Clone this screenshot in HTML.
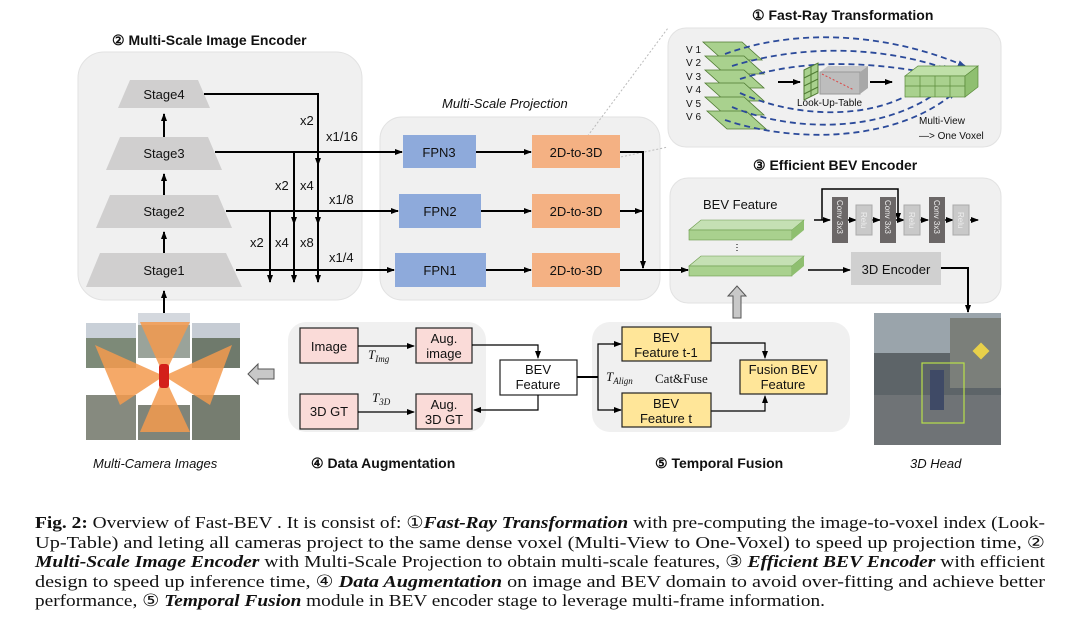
<!DOCTYPE html>
<html><head><meta charset="utf-8"><style>
body{margin:0;background:#fff;}
svg{display:block;font-family:"Liberation Sans",sans-serif;}
.t{font-size:13px;fill:#111;}
.h{font-size:14px;font-weight:bold;fill:#111;}
.cap{font-family:"Liberation Serif",serif;font-size:17px;fill:#111;}
</style></head><body>
<svg width="1080" height="622" viewBox="0 0 1080 622">
<defs>
<marker id="a" markerWidth="8" markerHeight="8" refX="7" refY="4" orient="auto" markerUnits="userSpaceOnUse"><path d="M0,1 L8,4 L0,7z" fill="#000"/></marker>
<marker id="b" markerWidth="8" markerHeight="8" refX="7" refY="4" orient="auto" markerUnits="userSpaceOnUse"><path d="M0,1 L8,4 L0,7z" fill="#2b4a9a"/></marker>
</defs>
<!-- panels -->
<rect x="78" y="52" width="284" height="248" rx="26" fill="#f0f0f0" stroke="#e2e2e2"/>
<rect x="380" y="117" width="280" height="183" rx="22" fill="#f0f0f0" stroke="#e2e2e2"/>
<rect x="668" y="28" width="333" height="119" rx="18" fill="#f0f0f0" stroke="#e2e2e2"/>
<rect x="670" y="178" width="331" height="125" rx="18" fill="#f0f0f0" stroke="#e2e2e2"/>
<rect x="288" y="322" width="198" height="110" rx="18" fill="#f0f0f0"/>
<rect x="592" y="322" width="258" height="110" rx="18" fill="#f0f0f0"/>
<!-- titles -->
<text x="112" y="45" class="h">② Multi-Scale Image Encoder</text>
<text x="442" y="108" font-size="13" font-style="italic" fill="#111">Multi-Scale Projection</text>
<text x="752" y="20" class="h">① Fast-Ray Transformation</text>
<text x="753" y="170" class="h">③ Efficient BEV  Encoder</text>
<text x="311" y="468" class="h">④ Data Augmentation</text>
<text x="655" y="468" class="h">⑤ Temporal Fusion</text>
<text x="93" y="468" font-size="13" font-style="italic" fill="#111">Multi-Camera Images</text>
<text x="910" y="468" font-size="13" font-style="italic" fill="#111">3D Head</text>
<!-- dotted zoom lines -->
<line x1="578" y1="149" x2="668" y2="28" stroke="#bbb" stroke-dasharray="2,2"/>
<line x1="578" y1="166" x2="668" y2="147" stroke="#bbb" stroke-dasharray="2,2"/>
<!-- stages -->
<g fill="#d0cfcf">
<polygon points="130,80 198,80 210,108 118,108"/>
<polygon points="120,137 208,137 222,170 106,170"/>
<polygon points="110,195 218,195 232,228 96,228"/>
<polygon points="100,253 226,253 242,287 86,287"/>
</g>
<text x="164" y="99" class="t" text-anchor="middle">Stage4</text>
<text x="164" y="158" class="t" text-anchor="middle">Stage3</text>
<text x="164" y="216" class="t" text-anchor="middle">Stage2</text>
<text x="164" y="275" class="t" text-anchor="middle">Stage1</text>
<g stroke="#000" stroke-width="2" fill="none">
<line x1="164" y1="137" x2="164" y2="114" marker-end="url(#a)"/>
<line x1="164" y1="195" x2="164" y2="174" marker-end="url(#a)"/>
<line x1="164" y1="253" x2="164" y2="232" marker-end="url(#a)"/>
<line x1="164" y1="318" x2="164" y2="291" marker-end="url(#a)"/>
<!-- connections -->
<polyline points="204,94 318,94 318,165" marker-end="url(#a)"/>
<line x1="215" y1="168" x2="402" y2="168" marker-end="url(#a)" transform="translate(0,-16)"/>
<line x1="294" y1="152" x2="294" y2="224" marker-end="url(#a)"/>
<line x1="318" y1="152" x2="318" y2="224" marker-end="url(#a)"/>
<line x1="226" y1="211" x2="398" y2="211" marker-end="url(#a)"/>
<line x1="270" y1="211" x2="270" y2="282" marker-end="url(#a)"/>
<line x1="294" y1="211" x2="294" y2="282" marker-end="url(#a)"/>
<line x1="318" y1="211" x2="318" y2="282" marker-end="url(#a)"/>
<line x1="236" y1="270" x2="394" y2="270" marker-end="url(#a)"/>
<line x1="476" y1="152" x2="531" y2="152" marker-end="url(#a)"/>
<line x1="481" y1="211" x2="531" y2="211" marker-end="url(#a)"/>
<line x1="486" y1="270" x2="531" y2="270" marker-end="url(#a)"/>
<polyline points="620,152 643,152 643,268" marker-end="url(#a)"/>
<line x1="620" y1="211" x2="642" y2="211" marker-end="url(#a)"/>
<line x1="620" y1="270" x2="688" y2="270" marker-end="url(#a)"/>
</g>
<g class="t" font-size="12.5">
<text x="300" y="125">x2</text><text x="326" y="141">x1/16</text>
<text x="275" y="190">x2</text><text x="300" y="190">x4</text><text x="329" y="204">x1/8</text>
<text x="250" y="247">x2</text><text x="275" y="247">x4</text><text x="300" y="247">x8</text><text x="329" y="262">x1/4</text>
</g>
<g fill="#8eaadb">
<rect x="403" y="135" width="73" height="33"/><rect x="399" y="194" width="82" height="34"/><rect x="395" y="253" width="91" height="34"/>
</g>
<g fill="#f4b183">
<rect x="532" y="135" width="88" height="33"/><rect x="532" y="194" width="88" height="34"/><rect x="532" y="253" width="88" height="34"/>
</g>
<g class="t" text-anchor="middle">
<text x="439" y="157">FPN3</text><text x="440" y="216">FPN2</text><text x="440" y="275">FPN1</text>
<text x="576" y="157">2D-to-3D</text><text x="576" y="216">2D-to-3D</text><text x="576" y="275">2D-to-3D</text>
</g>
<!-- fast ray -->
<g font-size="10" fill="#111">
<text x="686" y="53">V 1</text><text x="686" y="66">V 2</text><text x="686" y="80">V 3</text><text x="686" y="93">V 4</text><text x="686" y="107">V 5</text><text x="686" y="120">V 6</text>
</g>
<g fill="#a9d18e" stroke="#4f7a32" stroke-width="0.8">
<polygon points="703,42 742,42 762,60 723,60"/>
<polygon points="705,56 744,56 764,74 725,74"/>
<polygon points="705,70 744,70 764,88 725,88"/>
<polygon points="705,83 744,83 764,101 725,101"/>
<polygon points="705,97 744,97 764,115 725,115"/>
<polygon points="707,111 746,111 766,129 727,129"/>
</g>
<g fill="none" stroke="#2b4a9a" stroke-width="1.8" stroke-dasharray="6,4">
<path d="M725,54 C790,30 880,30 965,66" marker-end="url(#b)"/>
<path d="M732,66 C800,45 880,45 950,70" marker-end="url(#b)"/>
<path d="M740,79 C800,60 860,60 935,74" marker-end="url(#b)"/>
<path d="M740,93 C800,120 880,120 925,84" marker-end="url(#b)"/>
<path d="M732,107 C800,135 890,130 940,90" marker-end="url(#b)"/>
<path d="M725,120 C800,145 900,140 955,92" marker-end="url(#b)"/>
</g>
<g stroke="#000" stroke-width="2"><line x1="778" y1="82" x2="800" y2="82" marker-end="url(#a)"/><line x1="870" y1="82" x2="892" y2="82" marker-end="url(#a)"/></g>
<polygon points="804,70 818,63 818,93 804,100" fill="#a9d18e" stroke="#4f7a32"/>
<path d="M811,66 V96 M804,78 L818,71 M804,86 L818,79 M804,94 L818,87" stroke="#4f7a32"/>
<polygon points="820,72 860,72 868,66 828,66" fill="#c8c8c8"/>
<rect x="820" y="72" width="40" height="22" fill="#bdbdbd" stroke="#999"/>
<polygon points="860,72 868,66 868,88 860,94" fill="#a8a8a8"/>
<line x1="822" y1="74" x2="854" y2="90" stroke="#d44" stroke-width="1" stroke-dasharray="2,2"/>
<text x="797" y="106" font-size="10" fill="#111">Look-Up-Table</text>
<polygon points="905,76 965,76 978,66 918,66" fill="#bfe0a8" stroke="#5a8a3a" stroke-width="0.7"/>
<rect x="905" y="76" width="60" height="21" fill="#a9d18e" stroke="#5a8a3a" stroke-width="0.7"/>
<polygon points="965,76 978,66 978,87 965,97" fill="#8fbf70" stroke="#5a8a3a" stroke-width="0.7"/>
<path d="M920,76V97M935,76V97M950,76V97M905,86H965" stroke="#5a8a3a" stroke-width="0.7"/>
<text x="919" y="124" font-size="10" fill="#111">Multi-View</text>
<text x="919" y="139" font-size="10" fill="#111">—&gt; One Voxel</text>
<!-- BEV encoder -->
<text x="703" y="209" font-size="13" fill="#111">BEV Feature</text>
<g>
<polygon points="689,230 792,230 804,220 701,220" fill="#c5e0b4" stroke="#6a9a4a" stroke-width="0.6"/>
<rect x="689" y="230" width="103" height="10" fill="#a9d18e" stroke="#6a9a4a" stroke-width="0.6"/>
<polygon points="792,230 804,220 804,230 792,240" fill="#8fbf70"/>
<polygon points="689,266 792,266 804,256 701,256" fill="#c5e0b4" stroke="#6a9a4a" stroke-width="0.6"/>
<rect x="689" y="266" width="103" height="10" fill="#a9d18e" stroke="#6a9a4a" stroke-width="0.6"/>
<polygon points="792,266 804,256 804,266 792,276" fill="#8fbf70"/>
<line x1="737" y1="244" x2="737" y2="252" stroke="#000" stroke-dasharray="1,2"/>
</g>
<g stroke="#000" stroke-width="1.5" fill="none">
<line x1="808" y1="270" x2="850" y2="270" marker-end="url(#a)"/>
<polyline points="941,268 968,268 968,312" stroke-width="2" marker-end="url(#a)"/>
<line x1="814" y1="220" x2="830" y2="220" marker-end="url(#a)"/>
<polyline points="822,220 822,189 898,189 898,220" marker-end="url(#a)"/>
<line x1="848" y1="220" x2="856" y2="220" marker-end="url(#a)"/>
<line x1="872" y1="220" x2="880" y2="220" marker-end="url(#a)"/>
<line x1="896" y1="220" x2="904" y2="220" marker-end="url(#a)"/>
<line x1="920" y1="220" x2="928" y2="220" marker-end="url(#a)"/>
<line x1="945" y1="220" x2="953" y2="220" marker-end="url(#a)"/>
<line x1="970" y1="220" x2="978" y2="220" marker-end="url(#a)"/>
</g>
<g fill="#6b6767"><rect x="832" y="197" width="16" height="46"/><rect x="880" y="197" width="16" height="46"/><rect x="929" y="197" width="16" height="46"/></g>
<g fill="#c9c9c9" stroke="#aaa"><rect x="856" y="205" width="16" height="30"/><rect x="904" y="205" width="16" height="30"/><rect x="953" y="205" width="16" height="30"/></g>
<g font-size="8" fill="#eee"><text transform="translate(837,200) rotate(90)">Conv 3x3</text><text transform="translate(885,200) rotate(90)">Conv 3x3</text><text transform="translate(934,200) rotate(90)">Conv 3x3</text>
<text transform="translate(861,212) rotate(90)">Relu</text><text transform="translate(909,212) rotate(90)">Relu</text><text transform="translate(958,212) rotate(90)">Relu</text></g>
<rect x="851" y="252" width="90" height="33" fill="#d0d0d0"/>
<text x="896" y="274" class="t" text-anchor="middle">3D Encoder</text>
<!-- hollow up arrow -->
<polygon points="733,318 733,296 728,296 737,286 746,296 741,296 741,318" fill="#c8c8c8" stroke="#555"/>
<!-- data aug -->
<g fill="#fadbd8" stroke="#222" stroke-width="1.2">
<rect x="300" y="328" width="58" height="35"/><rect x="416" y="328" width="56" height="35"/>
<rect x="300" y="394" width="58" height="35"/><rect x="416" y="394" width="56" height="35"/>
</g>
<rect x="500" y="360" width="77" height="35" fill="#fff" stroke="#222" stroke-width="1.2"/>
<g class="t" text-anchor="middle">
<text x="329" y="351">Image</text><text x="444" y="343">Aug.</text><text x="444" y="358">image</text>
<text x="329" y="416">3D GT</text><text x="444" y="409">Aug.</text><text x="444" y="424">3D GT</text>
<text x="538" y="374">BEV</text><text x="538" y="389">Feature</text>
</g>
<g font-family="Liberation Serif" font-style="italic" font-size="13" fill="#111">
<text x="368" y="359">T<tspan font-size="9" dy="3">Img</tspan></text>
<text x="372" y="402">T<tspan font-size="9" dy="3">3D</tspan></text>
<text x="606" y="381">T<tspan font-size="9" dy="3">Align</tspan></text>
</g>
<text x="655" y="383" font-family="Liberation Serif" font-size="13" fill="#111">Cat&amp;Fuse</text>
<g stroke="#000" stroke-width="1.2" fill="none">
<line x1="358" y1="346" x2="414" y2="346" marker-end="url(#a)"/>
<line x1="358" y1="412" x2="414" y2="412" marker-end="url(#a)"/>
<polyline points="472,345 538,345 538,358" marker-end="url(#a)"/>
<polyline points="538,395 538,410 474,410" marker-end="url(#a)"/>
<line x1="577" y1="377" x2="598" y2="377" stroke-width="2"/>
<polyline points="621,344 598,344 598,410 621,410"/>
<line x1="612" y1="344" x2="621" y2="344" marker-end="url(#a)"/>
<line x1="612" y1="410" x2="621" y2="410" marker-end="url(#a)"/>
<polyline points="711,343 765,343 765,358" marker-end="url(#a)"/>
<polyline points="711,411 765,411 765,396" marker-end="url(#a)"/>
</g>
<g fill="#ffe699" stroke="#222" stroke-width="1.2">
<rect x="622" y="327" width="89" height="34"/><rect x="622" y="393" width="89" height="34"/><rect x="740" y="360" width="87" height="34"/>
</g>
<g class="t" text-anchor="middle">
<text x="666" y="342">BEV</text><text x="666" y="357">Feature t-1</text>
<text x="666" y="408">BEV</text><text x="666" y="423">Feature t</text>
<text x="783" y="374">Fusion BEV</text><text x="783" y="389">Feature</text>
</g>
<!-- left hollow arrow -->
<polygon points="274,369 258,369 258,364 248,374 258,384 258,379 274,379" fill="#c8c8c8" stroke="#555"/>
<!-- multi-camera images -->
<g>
<rect x="86" y="323" width="50" height="45" fill="#7d8a78"/>
<rect x="138" y="313" width="52" height="45" fill="#9aa39a"/>
<rect x="192" y="323" width="48" height="45" fill="#6f7a6c"/>
<rect x="86" y="395" width="50" height="45" fill="#868a7f"/>
<rect x="138" y="405" width="52" height="35" fill="#7f8479"/>
<rect x="192" y="395" width="48" height="45" fill="#767d70"/>
<rect x="86" y="323" width="50" height="15" fill="#c9d0d8"/>
<rect x="192" y="323" width="48" height="15" fill="#c6ccd4"/>
<rect x="138" y="313" width="52" height="12" fill="#d4d8de"/>
<polygon points="164,376 95,345 120,405 164,376" fill="#f39a4e" opacity="0.85"/>
<polygon points="164,376 232,345 210,405" fill="#f39a4e" opacity="0.85"/>
<polygon points="164,376 140,322 190,322" fill="#f39a4e" opacity="0.85"/>
<polygon points="164,376 140,432 190,432" fill="#f39a4e" opacity="0.85"/>
<rect x="159" y="364" width="10" height="24" rx="3" fill="#d3201a"/>
</g>
<!-- 3D head image -->
<rect x="874" y="313" width="127" height="132" fill="#5d6468"/>
<rect x="874" y="313" width="127" height="40" fill="#9aa4ab"/>
<rect x="950" y="318" width="51" height="70" fill="#7b7f7a"/>
<rect x="874" y="395" width="127" height="50" fill="#6f7376"/>
<rect x="922" y="363" width="42" height="60" fill="none" stroke="#b8e04a" stroke-width="1.2"/>
<rect x="930" y="370" width="14" height="40" fill="#3f4a66"/>
<rect x="975" y="345" width="12" height="12" fill="#e8d04a" transform="rotate(45 981 351)"/>
<!-- caption -->
<g class="cap">
<text x="35" y="528" textLength="1010" lengthAdjust="spacingAndGlyphs"><tspan font-weight="bold">Fig. 2:</tspan> Overview of Fast-BEV . It is consist of: ①<tspan font-weight="bold" font-style="italic">Fast-Ray Transformation</tspan> with pre-computing the image-to-voxel index (Look-</text>
<text x="35" y="548" textLength="1010" lengthAdjust="spacingAndGlyphs">Up-Table) and leting all cameras project to the same dense voxel (Multi-View to One-Voxel) to speed up projection time, ②</text>
<text x="35" y="567" textLength="1010" lengthAdjust="spacingAndGlyphs"><tspan font-weight="bold" font-style="italic">Multi-Scale Image Encoder</tspan> with Multi-Scale Projection to obtain multi-scale features, ③ <tspan font-weight="bold" font-style="italic">Efficient BEV Encoder</tspan> with efficient</text>
<text x="35" y="587" textLength="1010" lengthAdjust="spacingAndGlyphs">design to speed up inference time, ④ <tspan font-weight="bold" font-style="italic">Data Augmentation</tspan> on image and BEV domain to avoid over-fitting and achieve better</text>
<text x="35" y="606" textLength="790" lengthAdjust="spacingAndGlyphs">performance, ⑤ <tspan font-weight="bold" font-style="italic">Temporal Fusion</tspan> module in BEV encoder stage to leverage multi-frame information.</text>
</g>
</svg>
</body></html>
